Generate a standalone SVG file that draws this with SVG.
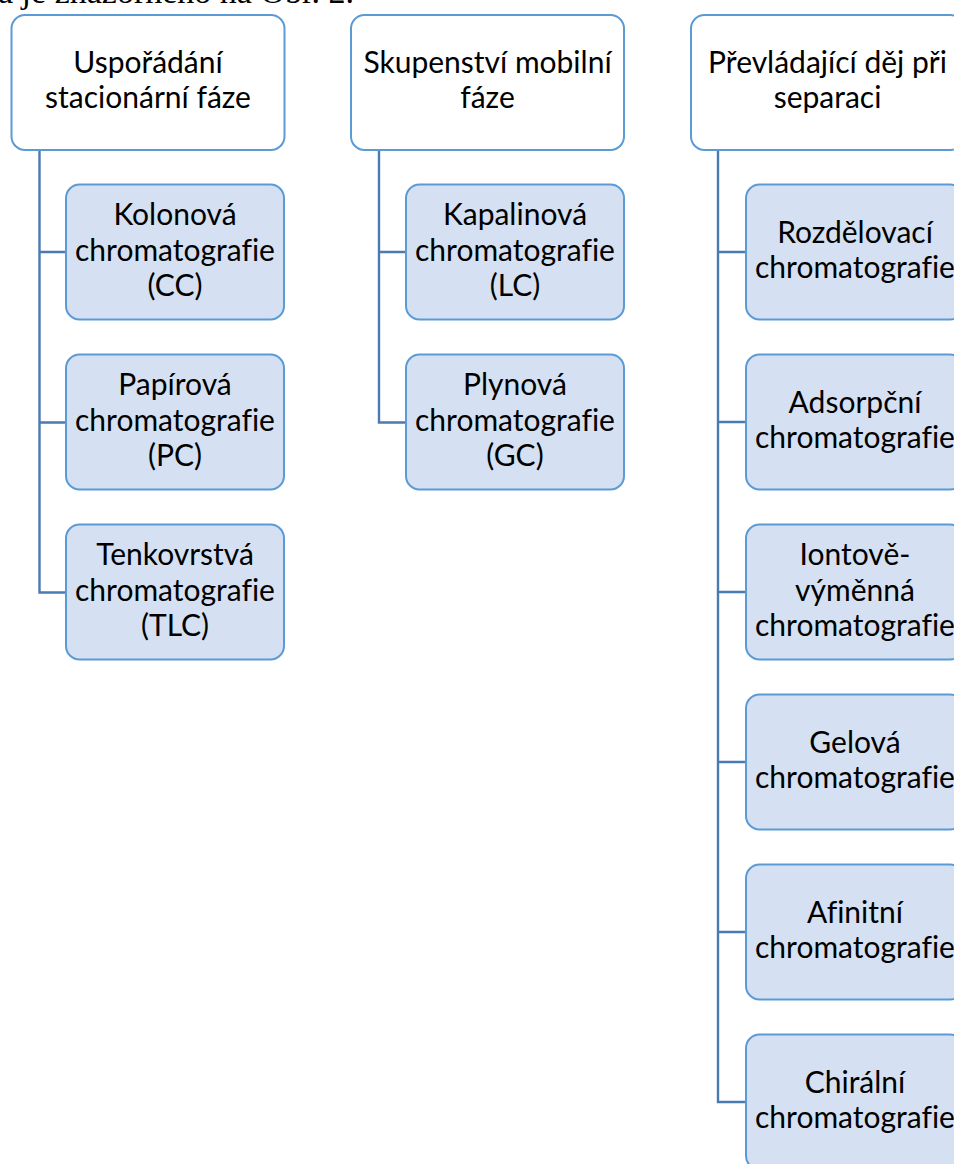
<svg xmlns="http://www.w3.org/2000/svg" width="954" height="1164" viewBox="0 0 954 1164">
<style>
.top{fill:#ffffff;stroke:#5B9BD5;stroke-width:2}
.child{fill:#D5E1F2;stroke:#5B9BD5;stroke-width:2}
.lbl{font-family:Lato,"Liberation Sans",sans-serif;font-size:30px;fill:#000;text-anchor:middle;font-variant-ligatures:none}
.conn{fill:none;stroke:#4A7AB2;stroke-width:2.4}
.pre{font-family:"Liberation Serif",serif;font-size:34px;fill:#000}
</style>
<rect width="954" height="1164" fill="#ffffff"/>
<text class="pre" x="-2" y="3">a je znázorněno na Obr. 2.</text>
<g id="connectors">
<path class="conn" d="M39.5,150 V592.5 H66 M39.5,252 H66 M39.5,422.5 H66"/>
<path class="conn" d="M379,150 V422.5 H406 M379,252 H406"/>
<path class="conn" d="M718,150 V1102 H746 M718,252 H746 M718,422 H746 M718,592 H746 M718,762 H746 M718,932 H746"/>
</g>
<g id="n-usporadani"><rect class="top" x="11.5" y="15" width="273" height="135" rx="13.5"/><text class="lbl" x="148" y="73">Uspořádání</text><text class="lbl" x="148" y="108">stacionární fáze</text></g>
<g id="n-cc"><rect class="child" x="66" y="184.5" width="218" height="135" rx="13.5"/><text class="lbl" x="175" y="225">Kolonová</text><text class="lbl" x="175" y="261">chromatografie</text><text class="lbl" x="175" y="296">(CC)</text></g>
<g id="n-pc"><rect class="child" x="66" y="354.5" width="218" height="135" rx="13.5"/><text class="lbl" x="175" y="395">Papírová</text><text class="lbl" x="175" y="431">chromatografie</text><text class="lbl" x="175" y="466">(PC)</text></g>
<g id="n-tlc"><rect class="child" x="66" y="524.5" width="218" height="135" rx="13.5"/><text class="lbl" x="175" y="565">Tenkovrstvá</text><text class="lbl" x="175" y="601">chromatografie</text><text class="lbl" x="175" y="636">(TLC)</text></g>
<g id="n-skupenstvi"><rect class="top" x="351" y="15" width="273" height="135" rx="13.5"/><text class="lbl" x="487.5" y="73">Skupenství mobilní</text><text class="lbl" x="487.5" y="108">fáze</text></g>
<g id="n-lc"><rect class="child" x="406" y="184.5" width="218" height="135" rx="13.5"/><text class="lbl" x="515" y="225">Kapalinová</text><text class="lbl" x="515" y="261">chromatografie</text><text class="lbl" x="515" y="296">(LC)</text></g>
<g id="n-gc"><rect class="child" x="406" y="354.5" width="218" height="135" rx="13.5"/><text class="lbl" x="515" y="395">Plynová</text><text class="lbl" x="515" y="431">chromatografie</text><text class="lbl" x="515" y="466">(GC)</text></g>
<g id="n-prevladajici"><rect class="top" x="691" y="15" width="273" height="135" rx="13.5"/><text class="lbl" x="827.5" y="73">Převládající děj při</text><text class="lbl" x="827.5" y="108">separaci</text></g>
<g id="n-rozdelovaci"><rect class="child" x="746" y="184.5" width="218" height="135" rx="13.5"/><text class="lbl" x="855" y="243">Rozdělovací</text><text class="lbl" x="855" y="278">chromatografie</text></g>
<g id="n-adsorpcni"><rect class="child" x="746" y="354.5" width="218" height="135" rx="13.5"/><text class="lbl" x="855" y="413">Adsorpční</text><text class="lbl" x="855" y="448">chromatografie</text></g>
<g id="n-iontove"><rect class="child" x="746" y="524.5" width="218" height="135" rx="13.5"/><text class="lbl" x="855" y="565">Iontově-</text><text class="lbl" x="855" y="601">výměnná</text><text class="lbl" x="855" y="636">chromatografie</text></g>
<g id="n-gelova"><rect class="child" x="746" y="694.5" width="218" height="135" rx="13.5"/><text class="lbl" x="855" y="753">Gelová</text><text class="lbl" x="855" y="788">chromatografie</text></g>
<g id="n-afinitni"><rect class="child" x="746" y="864.5" width="218" height="135" rx="13.5"/><text class="lbl" x="855" y="923">Afinitní</text><text class="lbl" x="855" y="958">chromatografie</text></g>
<g id="n-chiralni"><rect class="child" x="746" y="1034.5" width="218" height="135" rx="13.5"/><text class="lbl" x="855" y="1093">Chirální</text><text class="lbl" x="855" y="1128">chromatografie</text></g>
</svg>
